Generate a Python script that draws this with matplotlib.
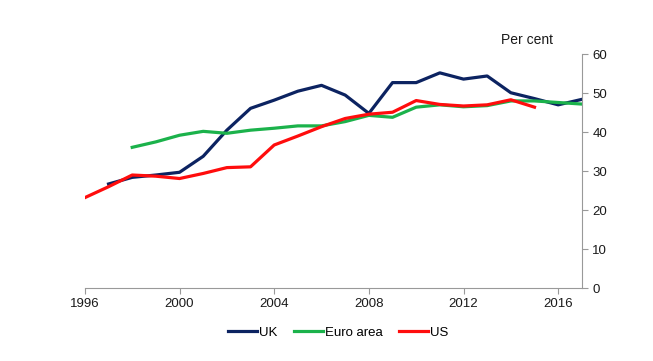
import matplotlib
matplotlib.use("Agg")
import matplotlib.pyplot as plt

plt.rcParams['font.family'] = ['Liberation Sans', 'DejaVu Sans']

# values, per cent
uk_years = list(range(1997, 2018))
uk = [26.7, 28.4, 29.0, 29.7, 33.8, 40.5, 46.1, 48.2, 50.5, 52.0, 49.5,
      44.8, 52.7, 52.7, 55.2, 53.6, 54.4, 50.1, 48.6, 47.0, 48.4]
euro_years = list(range(1998, 2018))
euro = [36.1, 37.5, 39.2, 40.2, 39.7, 40.5, 41.0, 41.6, 41.6, 42.7,
        44.3, 43.8, 46.4, 47.0, 46.5, 46.8, 48.0, 48.0, 47.6, 47.2]
us_years = list(range(1996, 2016))
us = [23.2, 26.0, 29.0, 28.7, 28.1, 29.4, 30.9, 31.1, 36.7, 39.0,
      41.4, 43.5, 44.6, 45.1, 48.1, 47.1, 46.7, 47.0, 48.3, 46.4]
xticks = [1996, 2000, 2004, 2008, 2012, 2016]
yticks = [0, 10, 20, 30, 40, 50, 60]

fig = plt.figure(figsize=(6.53, 3.61), dpi=100)
ax = fig.add_axes([0.130, 0.202, 0.761, 0.648])

ax.plot(uk_years, uk, color='#0c2361', lw=2.3, label='UK')
ax.plot(euro_years, euro, color='#1bb24b', lw=2.3, label='Euro area')
ax.plot(us_years, us, color='#ff0d0d', lw=2.3, label='US')

ax.set_xlim(1996, 2017)
ax.set_ylim(0, 60)
ax.set_xticks(xticks)
ax.set_yticks(yticks)
ax.yaxis.tick_right()
for s in ['top', 'left']:
    ax.spines[s].set_visible(False)
for s in ['bottom', 'right']:
    ax.spines[s].set_color('#999999')
ax.tick_params(colors='#999999', labelcolor='#1a1a1a', labelsize=9.5, length=4)

fig.text(0.807, 0.889, 'Per cent', ha='center', va='center', fontsize=10, color='#1a1a1a')

fig.legend(loc='center', bbox_to_anchor=(0.518, 0.078), ncol=3, frameon=False,
           fontsize=9.5, handlelength=2.2, handletextpad=0.2, columnspacing=1.2)

fig.savefig('out.png', dpi=100)
